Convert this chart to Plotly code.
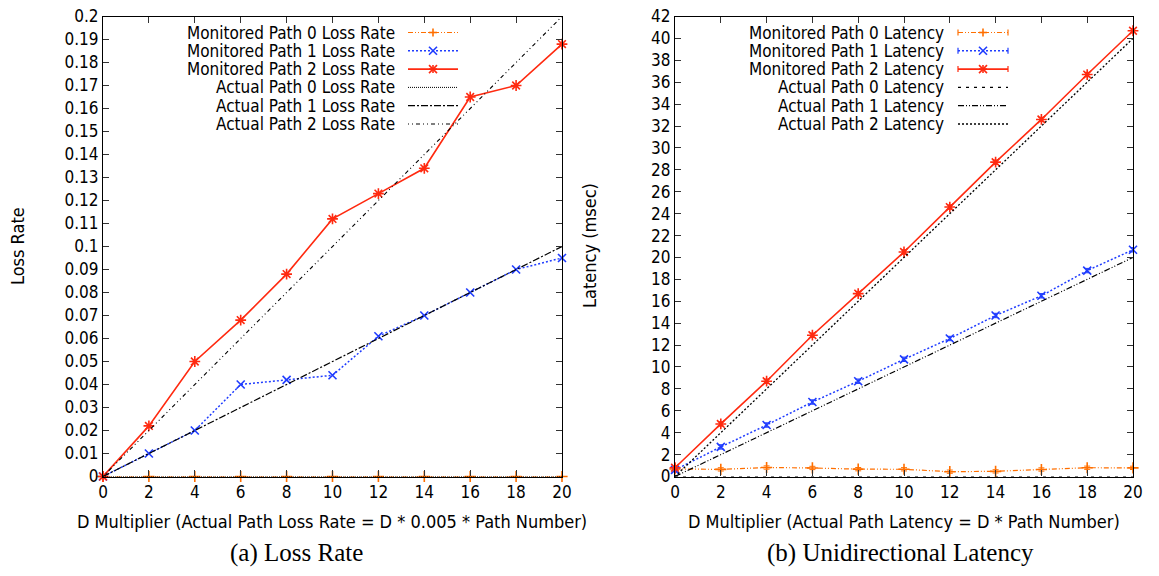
import plotly.graph_objects as go

W, H = 1159, 576

# ---------------- data ----------------
d_mult = [0, 2, 4, 6, 8, 10, 12, 14, 16, 18, 20]

loss_mon0 = [0, 0, 0, 0, 0, 0, 0, 0, 0, 0, 0]
loss_mon1 = [0, 0.010, 0.020, 0.040, 0.042, 0.044, 0.061, 0.070, 0.080, 0.090, 0.095]
loss_mon2 = [0, 0.022, 0.050, 0.068, 0.088, 0.112, 0.123, 0.134, 0.165, 0.170, 0.188]
loss_act0 = [0, 0, 0, 0, 0, 0, 0, 0, 0, 0, 0]
loss_act1 = [0, 0.01, 0.02, 0.03, 0.04, 0.05, 0.06, 0.07, 0.08, 0.09, 0.10]
loss_act2 = [0, 0.02, 0.04, 0.06, 0.08, 0.10, 0.12, 0.14, 0.16, 0.18, 0.20]

lat_mon0 = [0.69, 0.65, 0.82, 0.78, 0.67, 0.66, 0.44, 0.47, 0.64, 0.80, 0.79]
lat_mon1 = [0.6, 2.7, 4.7, 6.8, 8.7, 10.7, 12.6, 14.7, 16.5, 18.8, 20.7]
lat_mon2 = [0.8, 4.8, 8.7, 12.9, 16.7, 20.5, 24.6, 28.7, 32.6, 36.7, 40.7]
lat_err0 = [0.15, 0.15, 0.15, 0.15, 0.15, 0.15, 0.15, 0.15, 0.15, 0.15, 0.15]
lat_err1 = [0.2, 0.2, 0.2, 0.2, 0.2, 0.2, 0.2, 0.2, 0.2, 0.2, 0.2]
lat_err2 = [0.2, 0.2, 0.2, 0.2, 0.2, 0.2, 0.2, 0.2, 0.2, 0.2, 0.2]
lat_act0 = [0, 0, 0, 0, 0, 0, 0, 0, 0, 0, 0]
lat_act1 = [0, 2, 4, 6, 8, 10, 12, 14, 16, 18, 20]
lat_act2 = [0, 4, 8, 12, 16, 20, 24, 28, 32, 36, 40]

x_ticks = [0, 2, 4, 6, 8, 10, 12, 14, 16, 18, 20]
loss_ticks = [0, 0.01, 0.02, 0.03, 0.04, 0.05, 0.06, 0.07, 0.08, 0.09, 0.1,
              0.11, 0.12, 0.13, 0.14, 0.15, 0.16, 0.17, 0.18, 0.19, 0.2]
loss_tick_text = ["0", "0.01", "0.02", "0.03", "0.04", "0.05", "0.06", "0.07", "0.08", "0.09", "0.1",
                  "0.11", "0.12", "0.13", "0.14", "0.15", "0.16", "0.17", "0.18", "0.19", "0.2"]
lat_ticks = [0, 2, 4, 6, 8, 10, 12, 14, 16, 18, 20, 22, 24, 26, 28, 30, 32, 34, 36, 38, 40, 42]

loss_names = ["Monitored Path 0 Loss Rate", "Monitored Path 1 Loss Rate", "Monitored Path 2 Loss Rate",
              "Actual Path 0 Loss Rate", "Actual Path 1 Loss Rate", "Actual Path 2 Loss Rate"]
lat_names = ["Monitored Path 0 Latency", "Monitored Path 1 Latency", "Monitored Path 2 Latency",
             "Actual Path 0 Latency", "Actual Path 1 Latency", "Actual Path 2 Latency"]

# ---------------- styles ----------------
ORANGE = "#ff6f00"
BLUE = "#1f3cff"
RED = "#ff2a10"
BLACK = "#000000"
FONT = "DejaVu Sans Condensed, Liberation Sans, sans-serif"
FS = 17
FS_TXT = 18
FS_LEG = 17

mon_style = [
    dict(color=ORANGE, dash="5px,2px,1px,2px,1px,2px", width=1.2, symbol="cross-thin-open", msize=8),
    dict(color=BLUE, dash="2px,2px", width=1.5, symbol="x-thin-open", msize=8),
    dict(color=RED, dash="solid", width=1.6, symbol="asterisk-open", msize=9),
]
loss_act_style = [
    dict(color=BLACK, dash="1px,1px", width=1),
    dict(color=BLACK, dash="7px,2px,2px,2px", width=1.2),
    dict(color=BLACK, dash="1px,3px,1px,3px,4px,3px", width=1.1),
]
lat_act_style = [
    dict(color=BLACK, dash="3px,5px", width=1.1),
    dict(color=BLACK, dash="6px,2px,1px,2px,1px,2px", width=1.2),
    dict(color=BLACK, dash="2px,2px", width=1.3),
]

fig = go.Figure()

def add_mon(x, y, st, xa, ya, err=None):
    kw = {}
    if err is not None:
        kw["error_y"] = dict(type="data", array=err, visible=True, color=st["color"], thickness=1, width=3)
    fig.add_trace(go.Scatter(
        x=x, y=y, mode="lines+markers", xaxis=xa, yaxis=ya, showlegend=False, cliponaxis=False,
        line=dict(color=st["color"], dash=st["dash"], width=st["width"]),
        marker=dict(symbol=st["symbol"], size=st["msize"], color=st["color"],
                    line=dict(color=st["color"], width=1.6)),
        **kw))

def add_act(x, y, st, xa, ya):
    fig.add_trace(go.Scatter(
        x=x, y=y, mode="lines", xaxis=xa, yaxis=ya, showlegend=False, cliponaxis=False,
        line=dict(color=st["color"], dash=st["dash"], width=st["width"])))

# left chart
add_mon(d_mult, loss_mon0, mon_style[0], "x", "y")
add_mon(d_mult, loss_mon1, mon_style[1], "x", "y")
add_mon(d_mult, loss_mon2, mon_style[2], "x", "y")
add_act(d_mult, loss_act0, loss_act_style[0], "x", "y")
add_act(d_mult, loss_act1, loss_act_style[1], "x", "y")
add_act(d_mult, loss_act2, loss_act_style[2], "x", "y")
# right chart
add_mon(d_mult, lat_mon0, mon_style[0], "x2", "y2", lat_err0)
add_mon(d_mult, lat_mon1, mon_style[1], "x2", "y2", lat_err1)
add_mon(d_mult, lat_mon2, mon_style[2], "x2", "y2", lat_err2)
add_act(d_mult, lat_act0, lat_act_style[0], "x2", "y2")
add_act(d_mult, lat_act1, lat_act_style[1], "x2", "y2")
add_act(d_mult, lat_act2, lat_act_style[2], "x2", "y2")

def px(x):
    return x / W

def py(y):
    return 1 - y / H

xl = (103, 562)
xr = (675, 1133)
yb, yt = 476.5, 16.5

axis_common = dict(showgrid=False, zeroline=False, showline=True, linecolor="black", linewidth=1.2,
                   mirror="allticks", ticks="inside", ticklen=6, tickcolor="#333333", tickwidth=1,
                   automargin=False, tickfont=dict(family=FONT, size=FS, color="black"))

fig.update_layout(
    width=W, height=H, margin=dict(l=0, r=0, t=0, b=0, pad=0), autosize=False,
    plot_bgcolor="white", paper_bgcolor="white",
    xaxis=dict(domain=[px(xl[0]), px(xl[1])], range=[0, 20], tickvals=x_ticks, anchor="y", **axis_common),
    yaxis=dict(domain=[py(yb), py(yt)], range=[0, 0.2], tickvals=loss_ticks, ticktext=loss_tick_text,
               anchor="x", **axis_common),
    xaxis2=dict(domain=[px(xr[0]), px(xr[1])], range=[0, 20], tickvals=x_ticks, anchor="y2", **axis_common),
    yaxis2=dict(domain=[py(yb), py(yt)], range=[0, 42], tickvals=lat_ticks, anchor="x2", **axis_common),
)

ann = []

def text_ann(text, x, y, size=FS_TXT, family=FONT, angle=0, xanchor="center"):
    ann.append(dict(text=text, x=px(x), y=py(y), xref="paper", yref="paper", showarrow=False,
                    xanchor=xanchor, yanchor="middle", textangle=angle,
                    font=dict(family=family, size=size, color="black")))

# axis titles
text_ann("Loss Rate", 18, 246, angle=-90)
text_ann("Latency (msec)", 590, 246, angle=-90)
text_ann("D Multiplier (Actual Path Loss Rate = D * 0.005 * Path Number)", 332, 521)
text_ann("D Multiplier (Actual Path Latency = D * Path Number)", 904, 521)
# captions
text_ann("(a) Loss Rate", 296, 553, size=25, family="Liberation Serif, serif")
text_ann("(b) Unidirectional Latency", 900, 553, size=25, family="Liberation Serif, serif")

shapes = []
row_y = [32.5, 50.8, 69.1, 87.4, 105.7, 124.0]

def marker_shapes(cx, cy, kind, color, s=4):
    out = []
    segs = []
    if kind in ("plus", "star"):
        segs += [((cx - s, cy), (cx + s, cy)), ((cx, cy - s), (cx, cy + s))]
    if kind in ("x", "star"):
        segs += [((cx - s, cy - s), (cx + s, cy + s)), ((cx - s, cy + s), (cx + s, cy - s))]
    for (a, b) in segs:
        out.append(dict(type="line", xref="paper", yref="paper", x0=px(a[0]), y0=py(a[1]),
                        x1=px(b[0]), y1=py(b[1]), line=dict(color=color, width=1.6)))
    return out

def legend(names, text_right, s0, s1, act_styles, errbars):
    kinds = ["plus", "x", "star"]
    for i, name in enumerate(names):
        y = row_y[i]
        text_ann(name, text_right, y, size=FS_LEG, xanchor="right")
        st = mon_style[i] if i < 3 else act_styles[i - 3]
        shapes.append(dict(type="line", xref="paper", yref="paper", x0=px(s0), y0=py(y), x1=px(s1), y1=py(y),
                           line=dict(color=st["color"], width=st["width"], dash=st["dash"])))
        if i < 3:
            cx = (s0 + s1) / 2
            shapes.extend(marker_shapes(cx, y, kinds[i], st["color"]))
            if errbars:
                for ex in (s0, s1):
                    shapes.append(dict(type="line", xref="paper", yref="paper", x0=px(ex), y0=py(y - 3),
                                       x1=px(ex), y1=py(y + 3), line=dict(color=st["color"], width=1.2)))

legend(loss_names, 397, 408, 458, loss_act_style, False)
legend(lat_names, 946, 958, 1008, lat_act_style, True)

fig.update_layout(annotations=ann, shapes=shapes)
fig.write_html("out.html", config={"displayModeBar": False},
               post_script="document.body.style.margin='0';document.body.style.overflow='hidden';")
